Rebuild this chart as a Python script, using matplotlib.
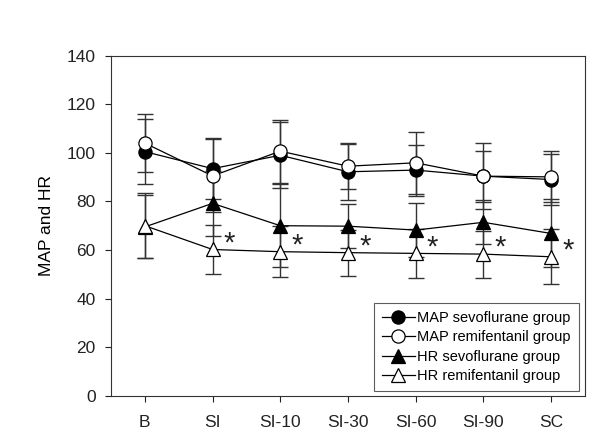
import matplotlib
matplotlib.use("Agg")
import matplotlib.pyplot as plt
import numpy as np

plt.rcParams["font.family"] = ["Liberation Sans", "DejaVu Sans"]

categories = ["B", "SI", "SI-10", "SI-30", "SI-60", "SI-90", "SC"]
map_sevo = [100.5, 93.5, 99.0, 92.2, 92.9, 90.4, 89.0]
map_sevo_sd = [13.4, 12.5, 13.5, 11.5, 10.5, 10.5, 10.5]
map_remi = [104.0, 90.5, 100.7, 94.5, 95.9, 90.4, 90.1]
map_remi_sd = [12.0, 15.0, 13.0, 9.5, 12.7, 13.5, 10.5]
hr_sevo = [69.5, 79.2, 70.0, 69.8, 68.2, 71.4, 66.8]
hr_sevo_sd = [13.0, 13.5, 17.0, 9.0, 11.0, 9.0, 14.0]
hr_remi = [70.0, 60.2, 59.3, 58.9, 58.6, 58.3, 57.2]
hr_remi_sd = [13.5, 10.2, 10.5, 9.5, 10.0, 9.7, 11.4]

fig = plt.figure(figsize=(6.05, 4.48), dpi=100)
ax = fig.add_axes([111/605, 1-395.7/448, (585-111)/605, (395.7-55.7)/448])
x = np.arange(len(categories))

ebkw = dict(ecolor="#333333", elinewidth=1.0, capsize=6, capthick=1.0)
series = [
    (map_sevo, map_sevo_sd, "o", "black", 9.5, "MAP sevoflurane group"),
    (map_remi, map_remi_sd, "o", "white", 9.5, "MAP remifentanil group"),
    (hr_sevo, hr_sevo_sd, "^", "black", 9.5, "HR sevoflurane group"),
    (hr_remi, hr_remi_sd, "^", "white", 9.5, "HR remifentanil group"),
]
handles = []
for i, (v, sd, m, fc, ms, lab) in enumerate(series):
    ax.errorbar(x, v, yerr=sd, fmt="none", zorder=2, **ebkw)
    h, = ax.plot(x, v, "-", color="black", lw=0.9, marker=m, mfc=fc, mec="black",
                 ms=ms, mew=0.9, label=lab, zorder=3 + i)
    handles.append(h)

for xi, v in zip(x[1:], hr_remi[1:]):
    ax.text(xi + 0.25, v + 2.5, "*", fontsize=21, ha="center", va="center", color="#222222")

ax.set_xlim(-0.5, 6.5)
ax.set_ylim(0, 140)
ax.set_yticks(np.arange(0, 141, 20))
ax.set_xticks(x)
ax.set_xticklabels(categories)
ax.tick_params(axis="both", direction="out", length=4, width=0.8, labelsize=12.5, colors="#222222", pad=7)
ax.tick_params(axis="x", pad=10)
for s in ax.spines.values():
    s.set_linewidth(0.8)
    s.set_color("#333333")
ax.set_ylabel("MAP and HR", fontsize=12.5, labelpad=9)

leg = ax.legend(handles=handles, loc="lower right", bbox_to_anchor=(0.987, 0.014),
                fontsize=10.5, frameon=True, fancybox=False, shadow=False,
                handlelength=2.3, handletextpad=0.15, borderpad=0.55, labelspacing=0.36,
                borderaxespad=0.0, markerscale=1.0)
leg.get_frame().set_edgecolor("#333333")
leg.get_frame().set_linewidth(0.8)

fig.savefig("out.png", dpi=100)
